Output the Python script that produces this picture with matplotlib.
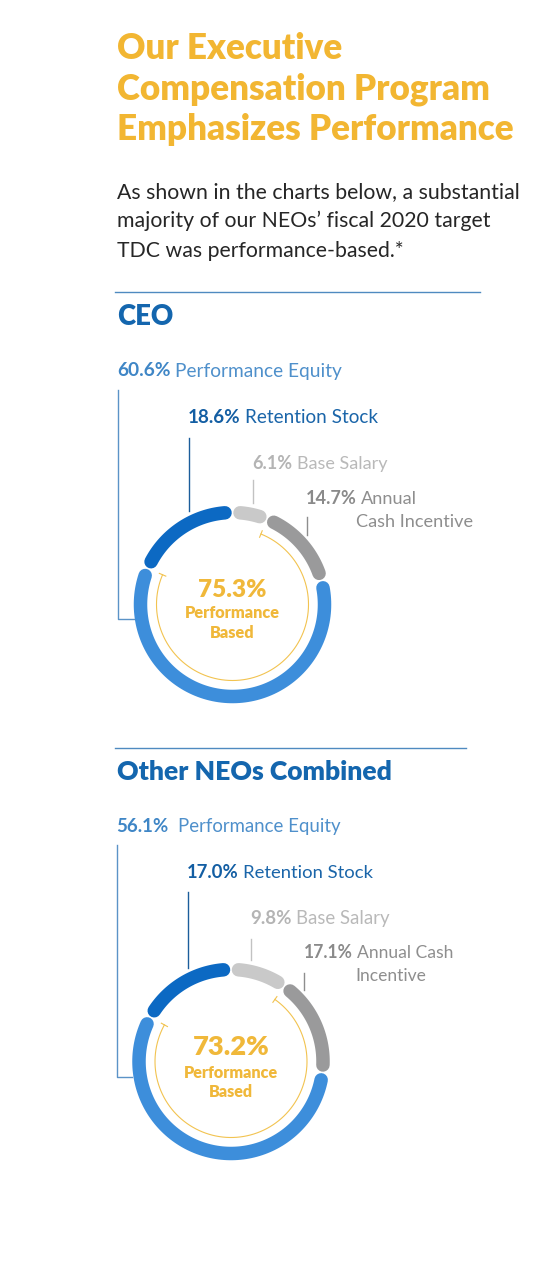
import matplotlib.pyplot as plt
import numpy as np

W, H = 541, 1280

# data
categories = ["Base Salary", "Annual Cash Incentive", "Performance Equity", "Retention Stock"]
ceo_pct = [6.1, 14.7, 60.6, 18.6]
neo_pct = [9.8, 17.1, 56.1, 17.0]
perf_idx = [1, 2]   # slices counted as performance based
ceo_names = ["Base Salary", ["Annual", "Cash Incentive"], "Performance Equity", "Retention Stock"]
neo_names = ["Base Salary", ["Annual Cash", "Incentive"], "Performance Equity", "Retention Stock"]

title_lines = ["Our Executive", "Compensation Program", "Emphasizes Performance"]
body_lines = ["As shown in the charts below, a substantial",
              "majority of our NEOs\u2019 fiscal 2020 target",
              "TDC was performance-based.*"]

ring_colors = ["#c9c9c9", "#9a9a9b", "#3d8edb", "#0c69c3"]
lab_bold = ["#b4b4b4", "#8a8a8a", "#3f86c6", "#135ea3"]
lab_reg = ["#b9b9b9", "#8e8e8e", "#4f90cb", "#1a65a9"]
lead_col = ["#c2c2c2", "#8e8e8e", "#5b93c7", "#1b5d9b"]
YEL = "#f2b632"
FONT = "Lato"

fig = plt.figure(figsize=(W / 100, H / 100), dpi=100)
ax = fig.add_axes([0, 0, 1, 1])
ax.set_xlim(0, W)
ax.set_ylim(H, 0)
ax.axis('off')
rend = fig.canvas.get_renderer()


def wid(s, size, weight):
    t = ax.text(0, 0, s, fontsize=size, fontweight=weight, family=FONT)
    w = t.get_window_extent(renderer=rend).width
    t.remove()
    return w


def runs(x, y, parts, target_w=None, size=None, gap=0.22, ha='left'):
    # parts = [(text, weight, color), ...] drawn one after another
    if size is None:
        tot = sum(wid(s, 10, wt) for s, wt, c in parts) + gap * 10 * 100 / 72 * (len(parts) - 1)
        size = 10 * target_w / tot
    if ha == 'center':
        tot = sum(wid(s, size, wt) for s, wt, c in parts) + gap * size * 100 / 72 * (len(parts) - 1)
        x = x - tot / 2
    for s, wt, c in parts:
        ax.text(x, y, s, fontsize=size, fontweight=wt, color=c, family=FONT, va='baseline', ha='left')
        x += wid(s, size, wt) + gap * size * 100 / 72
    return size


# header
sz = runs(117, 140, [(title_lines[2], 'heavy', YEL)], target_w=398)
runs(117, 59, [(title_lines[0], 'heavy', YEL)], size=sz)
runs(117, 100, [(title_lines[1], 'heavy', YEL)], size=sz)
sz = runs(117, 198, [(body_lines[0], 'normal', '#262626')], target_w=401)
runs(117, 227, [(body_lines[1], 'normal', '#262626')], size=sz)
runs(117, 257, [(body_lines[2], 'normal', '#262626')], size=sz)


def donut(cx, cy, pct, names, heading, top, lab):
    ax.plot([115, lab['rule']], [top, top], color="#4f8ac0", lw=1.0)
    runs(117, top + 33, [(heading, 'heavy', "#1466ae")], target_w=lab['head_w'])

    R, lw_px = 92, 13.5
    r_out = R + lw_px / 2
    gap = np.degrees(15 / R) / 2
    start = 90
    starts = []
    for v, c in zip(pct, ring_colors):
        span = 360 * v / 100
        starts.append(start)
        t = np.radians(np.linspace(start - gap, start - span + gap, 120))
        ax.plot(cx + R * np.cos(t), cy - R * np.sin(t), color=c, lw=lw_px * 0.72,
                solid_capstyle='round')
        start -= span

    # performance based arc
    a0 = starts[perf_idx[0]]
    a1 = a0 - 360 * sum(pct[i] for i in perf_idx) / 100
    ri = 76
    t = np.radians(np.linspace(a0, a1, 200))
    ax.plot(cx + ri * np.cos(t), cy - ri * np.sin(t), color="#f2c350", lw=0.8)
    for a in (a0, a1):
        ar = np.radians(a)
        ax.plot([cx + (ri - 3.5) * np.cos(ar), cx + (ri + 3.5) * np.cos(ar)],
                [cy - (ri - 3.5) * np.sin(ar), cy - (ri + 3.5) * np.sin(ar)],
                color="#f2c350", lw=0.8)

    perf = sum(pct[i] for i in perf_idx)
    runs(cx, lab['c_base'][0], [(f"{perf:.1f}%", 'heavy', "#f0b83a")], target_w=lab['c_w'][0], ha='center')
    s2 = runs(cx, lab['c_base'][1], [("Performance", 'heavy', "#f0b83a")], target_w=lab['c_w'][1], ha='center')
    runs(cx, lab['c_base'][2], [("Based", 'heavy', "#f0b83a")], size=s2, ha='center')

    # labels + leader lines
    for i in range(4):
        x, yb, w, lx, ly = lab['lab'][i]
        nm = names[i] if isinstance(names[i], str) else names[i][0]
        g = 0.5 if i == 2 and lab.get('wide') else 0.22
        s = runs(x, yb, [(f"{pct[i]:.1f}%", 'bold', lab_bold[i]), (nm, 'normal', lab_reg[i])],
                 target_w=w, gap=g)
        if not isinstance(names[i], str):
            runs(x + lab['second_dx'], yb + 23, [(names[i][1], 'normal', lab_reg[i])], size=s)
        if i == 2:
            ycorner = ly[1]
            xe = cx - np.sqrt(r_out ** 2 - (ycorner - cy) ** 2) - 1
            ax.plot([lx, lx, xe], [ly[0], ycorner, ycorner], color=lead_col[i], lw=1.0)
        else:
            ye = cy - np.sqrt(r_out ** 2 - (lx - cx) ** 2) - 5
            ax.plot([lx, lx], [ly[0], ye], color=lead_col[i], lw=1.0)


donut(232.5, 604.5, ceo_pct, ceo_names, "CEO", 292,
      dict(rule=480, head_w=56, c_base=[596.7, 618.3, 638.3], c_w=[68.7, 95.6],
           second_dx=50,
           lab=[(252.7, 469.3, 134, 252.7, (480,)),
                (306, 504, 110.7, 307.3, (517,)),
                (117, 376.5, 225, 117.5, (390, 619)),
                (188, 422.7, 190, 189, (438,))]))

donut(231, 1061.5, neo_pct, neo_names, "Other NEOs Combined", 747.5,
      dict(rule=466, head_w=275.7, c_base=[1055, 1077.7, 1096.7], c_w=[76.7, 95],
           second_dx=51, wide=True,
           lab=[(250.7, 924.3, 138.6, 251, (939,)),
                (304, 958.3, 149, 304.3, (973,)),
                (116, 831.7, 224, 117, (845, 1077)),
                (187.3, 877.7, 186, 187.7, (892,))]))

fig.savefig("out.png", dpi=100, facecolor="white")
